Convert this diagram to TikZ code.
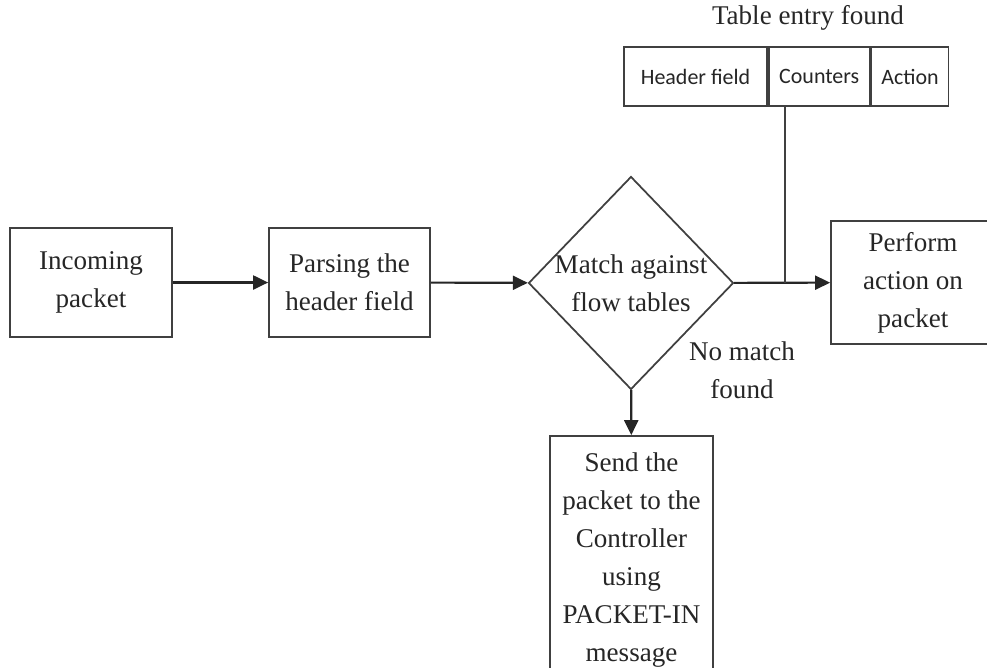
\documentclass[tikz,border=0pt]{standalone}
\usepackage{fontspec}
\setmainfont{Liberation Serif}
\newfontfamily\tablefont{Carlito}
\usetikzlibrary{arrows.meta,positioning,shapes.geometric}

\begin{document}
\begin{tikzpicture}[x=0.02cm, y=-0.02cm,
    every node/.style={text=black!85, font=\fontsize{15.4}{21.6}\selectfont, align=center},
    stepbox/.style={draw=black!75, line width=1pt, inner sep=0pt},
    cell/.style={draw=black!75, line width=1pt, minimum height=1.18cm, inner sep=0pt, font=\tablefont\fontsize{12.5}{15}\selectfont},
    flow/.style={draw=black!85, line width=1.2pt, -{Triangle[length=0.3cm,width=0.28cm]}}]
    \useasboundingbox (0,0) rectangle (987,667);

    \node[stepbox, minimum width=3.24cm, minimum height=2.18cm] (incoming) at (91,282.5) {Incoming\\packet};
    \node[stepbox, minimum width=3.22cm, minimum height=2.18cm] (parsing) at (349.5,282.5) {Parsing the\\header field};
    \node[stepbox, diamond, minimum width=4.1cm, minimum height=4.26cm] (match) at (631,283) {};
    \node (matchtext) at (match.center) {Match against\\flow tables};
    \node[stepbox, minimum width=3.28cm, minimum height=2.46cm] (perform) at (913,282.5) {Perform\\action on\\packet};
    \node[stepbox, minimum width=3.26cm, minimum height=4.96cm] (send) at (631.5,560) {Send the\\packet to the\\Controller\\using\\PACKET-IN\\message};

    % flow table entry
    \node[cell, minimum width=2.86cm] (hdr) at (695.5,76.5) {Header field};
    \node[cell, minimum width=2.02cm, right=0pt of hdr] (counters) {Counters};
    \node[cell, minimum width=1.54cm, right=0pt of counters] (action) {Action};
    \node (found) at (808,18) {Table entry found};
    \node (nomatch) at (742,370) {No match\\found};

    \coordinate (join) at (785,283);
    \draw[flow] (incoming) -- (parsing);
    \draw[flow] (parsing) -- (match);
    \draw[flow] (match) -- (perform);
    \draw[flow] (match) -- (send);
    \draw[line width=1pt, draw=black!75] (join |- counters.south) -- (join);
\end{tikzpicture}
\end{document}
